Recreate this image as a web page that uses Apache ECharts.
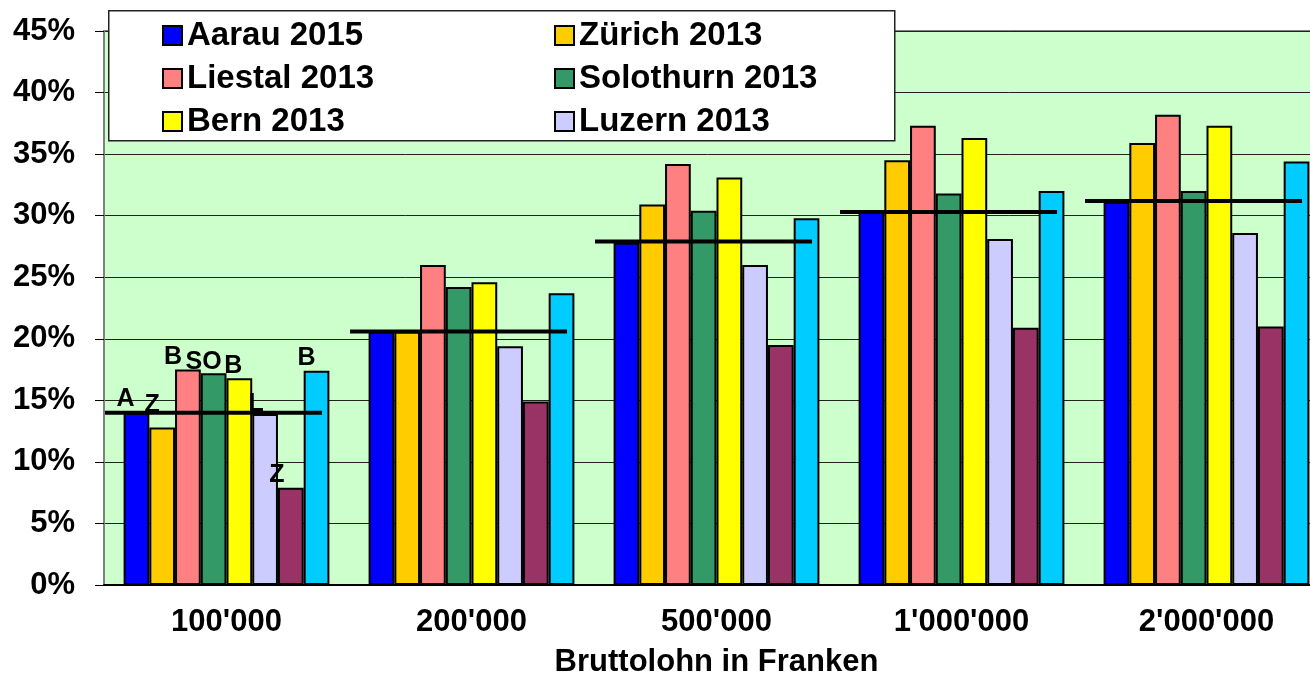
<!DOCTYPE html>
<html>
<head>
<meta charset="utf-8">
<title>Bruttolohn</title>
<script src="https://cdn.jsdelivr.net/npm/echarts/dist/echarts.min.js"></script>
<style>
  html, body { margin: 0; padding: 0; background: #fff; }
  #chart { width: 1310px; height: 679px; }
</style>
</head>
<body>
<div id="chart"></div>
<script>
// Werte in Prozent
const kategorien = ["100'000", "200'000", "500'000", "1'000'000", "2'000'000"]
const aarau2015 = [14.0, 20.6, 27.8, 30.3, 31.1]
const zuerich2013 = [12.8, 20.6, 30.9, 34.5, 35.9]
const liestal2013 = [17.5, 26.0, 34.2, 37.3, 38.2]
const solothurn2013 = [17.2, 24.2, 30.4, 31.8, 32.0]
const bern2013 = [16.8, 24.6, 33.1, 36.3, 37.3]
const luzern2013 = [13.9, 19.4, 26.0, 28.1, 28.6]
const serie7 = [7.9, 14.9, 19.5, 20.9, 21.0]
const serie8 = [17.4, 23.7, 29.8, 32.0, 34.4]
const aarauLinie = [14.0, 20.6, 27.9, 30.3, 31.2]
const marken = ['A', 'Z', 'B', 'SO', 'B', 'L', 'Z', 'B']
const yTicks = [0, 5, 10, 15, 20, 25, 30, 35, 40, 45]

const font = "'Liberation Sans', Arial, sans-serif"

const reihen = [
  { name: 'Aarau 2015', data: aarau2015, color: '#0000FF' },
  { name: 'Zürich 2013', data: zuerich2013, color: '#FFCC00' },
  { name: 'Liestal 2013', data: liestal2013, color: '#FF8080' },
  { name: 'Solothurn 2013', data: solothurn2013, color: '#339966' },
  { name: 'Bern 2013', data: bern2013, color: '#FFFF00' },
  { name: 'Luzern 2013', data: luzern2013, color: '#CCCCFF' },
  { name: 'Serie 7', data: serie7, color: '#993366' },
  { name: 'Serie 8', data: serie8, color: '#00CCFF' }
]

// label offsets for the first group
const markenVersatz = [[-11, -1], [-10, -10], [-15, 0], [-10, 1], [-6, 0], [-9, 3], [-14, 0], [-10, 0]]

function barSeries(r, idx) {
  return {
    name: r.name,
    type: 'bar',
    barGap: '0%',
    barCategoryGap: '16%',
    itemStyle: { color: r.color, borderColor: '#000', borderWidth: 2 },
    data: r.data.map((v, i) => {
      if (i !== 0) return v
      return {
        value: v,
        label: {
          show: true,
          position: 'top',
          distance: 0,
          offset: markenVersatz[idx],
          formatter: marken[idx],
          color: '#000',
          fontFamily: font,
          fontWeight: 'bold',
          fontSize: 25
        }
      }
    })
  }
}

const legendText = { color: '#000', fontFamily: font, fontWeight: 'bold', fontSize: 33, lineHeight: 33 }

const chart = echarts.init(document.getElementById('chart'))

const option = {
  animation: false,
  backgroundColor: '#fff',
  grid: {
    left: 104, top: 31, width: 1225, bottom: 94,
    outerBoundsMode: 'none',
    containLabel: false,
    show: true, backgroundColor: '#CCFFCC', borderColor: '#808080', borderWidth: 2
  },
  graphic: [{
    type: 'rect', left: 108, top: 10, z: 8,
    shape: { width: 786, height: 130 },
    style: { fill: '#fff', stroke: '#222', lineWidth: 1.5 }
  }],
  legend: [
    {
      data: ['Aarau 2015', 'Liestal 2013', 'Bern 2013'],
      orient: 'vertical', left: 157, top: 14, itemGap: 10,
      itemWidth: 19, itemHeight: 19, icon: 'rect', z: 10,
      textStyle: legendText
    },
    {
      data: ['Zürich 2013', 'Solothurn 2013', 'Luzern 2013'],
      orient: 'vertical', left: 549, top: 14, itemGap: 10,
      itemWidth: 19, itemHeight: 19, icon: 'rect', z: 10,
      textStyle: legendText
    }
  ],
  xAxis: {
    type: 'category',
    data: kategorien,
    name: 'Bruttolohn in Franken',
    nameLocation: 'middle',
    nameGap: 62,
    nameTextStyle: { color: '#000', fontFamily: font, fontWeight: 'bold', fontSize: 31 },
    axisLine: { lineStyle: { color: '#000', width: 2 } },
    axisTick: { length: 9, lineStyle: { color: '#000', width: 1 } },
    axisLabel: { margin: 22, color: '#000', fontFamily: font, fontWeight: 'bold', fontSize: 31 }
  },
  yAxis: {
    type: 'value',
    min: yTicks[0],
    max: yTicks[yTicks.length - 1],
    interval: 5,
    axisLine: { show: true, lineStyle: { color: '#808080', width: 2 } },
    axisTick: { show: true, length: 9, lineStyle: { color: '#000', width: 1 } },
    axisLabel: {
      margin: 29, color: '#000', fontFamily: font, fontWeight: 'bold', fontSize: 31,
      formatter: v => v + '%'
    },
    splitLine: { lineStyle: { color: '#222', width: 1 } }
  },
  series: reihen.map(barSeries).concat([{
    name: 'Linie',
    type: 'custom',
    z: 5,
    silent: true,
    data: aarauLinie.map((v, i) => [i, v]),
    renderItem: function (params, api) {
      const p = api.coord([api.value(0), api.value(1)])
      const band = api.size([1, 0])[0]
      const x0 = p[0] - band / 2
      return {
        type: 'line',
        shape: { x1: x0 + 1, y1: p[1], x2: x0 + band * 0.89, y2: p[1] },
        style: { stroke: '#000', lineWidth: 4 }
      }
    }
  }])
}

chart.setOption(option)
</script>
</body>
</html>
